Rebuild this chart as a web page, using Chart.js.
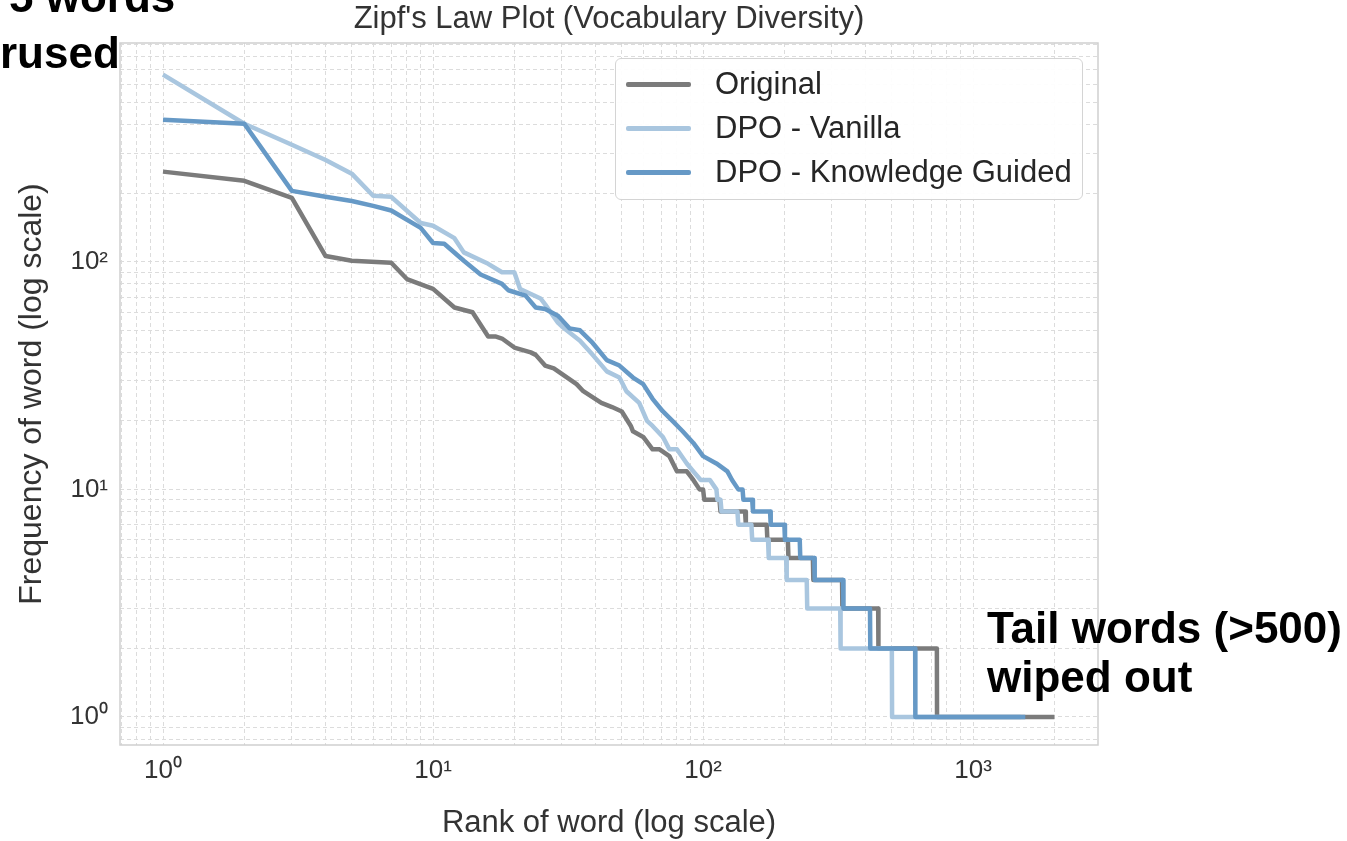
<!DOCTYPE html>
<html>
<head>
<meta charset="utf-8">
<script src="https://cdn.jsdelivr.net/npm/chart.js@4.4.0/dist/chart.umd.min.js"></script>
<style>
    body { margin: 0; background: #fff; font-family: "Liberation Sans", Arial, sans-serif; }
    #wrap { position: relative; width: 1347px; height: 841px; overflow: hidden; }
    .note { position: absolute; font-weight: bold; color: #000; white-space: nowrap; }
    #legend { position: absolute; left: 615px; top: 58px; width: 468px; height: 142px; box-sizing: border-box;
              border: 1.5px solid #d4d4d4; border-radius: 6px; background: rgba(255,255,255,0.92); }
    .swatch { position: absolute; left: 10px; width: 65px; height: 4.5px; border-radius: 2px; }
    .lab { position: absolute; left: 99px; font-size: 31px; line-height: 36px; color: #262626; white-space: nowrap; }
</style>
</head>
<body>
<div id="wrap">
    <canvas id="zipfChart"></canvas>
    <div id="legend"></div>
    <div class="note" style="left:9px; top:-25px; font-size:44px; line-height:44px;">5 words</div>
    <div class="note" style="left:0px; top:31px; font-size:44px; line-height:44px;">rused</div>
    <div class="note" style="left:987px; top:603px; font-size:44px; line-height:49px;">Tail words (&gt;500)<br>wiped out</div>
</div>
<script>
// rank / frequency (break points of each curve)
const originalRanks = [1, 2, 3, 4, 5, 7, 8, 10, 12, 14, 16, 17, 18, 20, 23, 24, 26, 28, 34, 36, 42, 46, 50, 54, 55, 60, 65, 69, 75, 80, 87, 92, 97, 100, 101, 115, 116, 143, 144, 172, 173, 206, 207, 255, 256, 327, 328, 445, 446, 734, 735, 2000];
const originalFreqs = [249, 227, 191, 106, 101, 99, 84, 76, 63, 60, 47, 47, 46, 42, 40, 39, 35, 34, 29, 27, 24, 23, 22, 19, 18, 17, 15, 15, 14, 12, 12, 11, 10, 10, 9, 9, 8, 8, 7, 7, 6, 6, 5, 5, 4, 4, 3, 3, 2, 2, 1, 1];

const vanillaRanks = [1, 2, 3, 4, 5, 6, 7, 9, 10, 12, 13, 16, 18, 20, 21, 22, 25, 26, 29, 30, 35, 39, 44, 49, 52, 58, 62, 65, 71, 75, 80, 87, 92, 98, 106, 112, 113, 116, 117, 134, 135, 151, 152, 174, 175, 203, 204, 242, 243, 322, 323, 500, 501, 1500];
const vanillaFreqs = [664, 404, 327, 280, 244, 195, 193, 148, 144, 127, 110, 98, 90, 90, 76, 74, 69, 65, 54, 52, 45, 39, 33, 31, 27, 24, 20, 19, 17, 15, 15, 13, 12, 11, 11, 10, 9, 9, 8, 8, 7, 7, 6, 6, 5, 5, 4, 4, 3, 3, 2, 2, 1, 1];

const guidedRanks = [1, 2, 3, 4, 5, 6, 7, 9, 10, 11, 13, 15, 18, 19, 22, 24, 26, 29, 32, 35, 39, 44, 49, 55, 60, 65, 71, 77, 84, 92, 100, 112, 123, 128, 135, 140, 141, 152, 153, 177, 178, 200, 201, 228, 229, 258, 259, 330, 331, 415, 416, 610, 611, 1560];
const guidedFreqs = [421, 404, 205, 193, 185, 176, 168, 141, 121, 120, 101, 88, 80, 75, 71, 63, 62, 58, 51, 50, 44, 37, 35, 31, 29, 25, 22, 20, 18, 16, 14, 13, 12, 11, 10, 10, 9, 9, 8, 8, 7, 7, 6, 6, 5, 5, 4, 4, 3, 3, 2, 2, 1, 1];

const seriesNames = ['Original', 'DPO - Vanilla', 'DPO - Knowledge Guided'];
const seriesColors = ['#7b7b7b', '#a9c6df', '#6699c6'];

const xTickLabels = ['10⁰', '10¹', '10²', '10³'];
const yTickLabels = ['10⁰', '10¹', '10²'];

const xMin = 0.693, xMax = 2900;
const yMin = 0.753, yMax = 915;

function logGrid(lo, hi) {
    const vals = [];
    for (let e = -1; e <= 3; e++) {
        for (let m = 1; m <= 9; m++) {
            const v = m * Math.pow(10, e);
            if (v > lo && v < hi) vals.push(v);
        }
    }
    return vals;
}

function powerLabel(value, labels) {
    const exp = Math.log10(value);
    if (Math.abs(exp - Math.round(exp)) < 1e-9 && labels[Math.round(exp)] !== undefined) {
        return labels[Math.round(exp)];
    }
    return '';
}

function toPoints(ranks, freqs) {
    return ranks.map((r, i) => ({ x: r, y: freqs[i] }));
}

const frameBox = {
    id: 'frameBox',
    beforeDatasetsDraw(chart) {
        const { ctx, chartArea: a } = chart;
        ctx.save();
        ctx.strokeStyle = '#cfcfcf';
        ctx.lineWidth = 1.5;
        ctx.strokeRect(a.left, a.top, a.right - a.left, a.bottom - a.top);
        ctx.restore();
    }
};

// legend box
const legendBox = document.getElementById('legend');
seriesNames.forEach((name, i) => {
    const top = 25 + i * 44;
    legendBox.innerHTML += `<div class="swatch" style="top:${top - 2}px; background:${seriesColors[i]}"></div>
        <div class="lab" style="top:${top - 18}px">${name}</div>`;
});

const canvas = document.getElementById('zipfChart');
canvas.width = 1347;
canvas.height = 841;

new Chart(canvas.getContext('2d'), {
    type: 'line',
    data: {
        datasets: [
            { label: seriesNames[0], data: toPoints(originalRanks, originalFreqs), borderColor: seriesColors[0], order: 2 },
            { label: seriesNames[1], data: toPoints(vanillaRanks, vanillaFreqs), borderColor: seriesColors[1], order: 1 },
            { label: seriesNames[2], data: toPoints(guidedRanks, guidedFreqs), borderColor: seriesColors[2], order: 0 }
        ]
    },
    options: {
        responsive: false,
        animation: false,
        parsing: false,
        elements: {
            point: { radius: 0, hoverRadius: 0 },
            line: { borderWidth: 4.5, tension: 0, borderJoinStyle: 'round', borderCapStyle: 'butt', fill: false }
        },
        layout: { padding: { left: 0, top: 0, right: 249, bottom: 0 } },
        plugins: {
            legend: { display: false },
            tooltip: { enabled: false },
            title: {
                display: true,
                fullSize: false,
                text: "Zipf's Law Plot (Vocabulary Diversity)",
                color: '#333',
                font: { family: 'Liberation Sans', size: 31, weight: 'normal', lineHeight: 1.2 },
                padding: { top: 1, bottom: 4.8 }
            }
        },
        scales: {
            x: {
                type: 'logarithmic',
                min: xMin,
                max: xMax,
                afterBuildTicks: s => { s.ticks = logGrid(xMin, xMax).map(v => ({ value: v })); },
                afterFit: s => { s.height = 96; },
                ticks: {
                    autoSkip: false,
                    maxRotation: 0,
                    padding: 10,
                    color: '#333',
                    font: { family: 'Liberation Sans', size: 26 },
                    callback: v => powerLabel(v, xTickLabels)
                },
                grid: { color: '#dcdcdc', lineWidth: 1, drawTicks: false },
                border: { display: false, dash: [4, 3] },
                title: {
                    display: true,
                    text: 'Rank of word (log scale)',
                    color: '#333',
                    font: { family: 'Liberation Sans', size: 31, lineHeight: 1.1 },
                    padding: { top: 0, bottom: 0 }
                }
            },
            y: {
                type: 'logarithmic',
                min: yMin,
                max: yMax,
                afterBuildTicks: s => { s.ticks = logGrid(yMin, yMax).map(v => ({ value: v })); },
                afterFit: s => { s.width = 120; },
                ticks: {
                    autoSkip: false,
                    padding: 12,
                    color: '#333',
                    font: { family: 'Liberation Sans', size: 26 },
                    callback: v => powerLabel(v, yTickLabels)
                },
                grid: { color: '#dcdcdc', lineWidth: 1, drawTicks: false },
                border: { display: false, dash: [4, 3] },
                title: {
                    display: true,
                    text: 'Frequency of word (log scale)',
                    color: '#333',
                    font: { family: 'Liberation Sans', size: 32, lineHeight: 1.1 },
                    padding: { top: 15, bottom: 0 }
                }
            }
        }
    },
    plugins: [frameBox]
});
</script>
</body>
</html>
